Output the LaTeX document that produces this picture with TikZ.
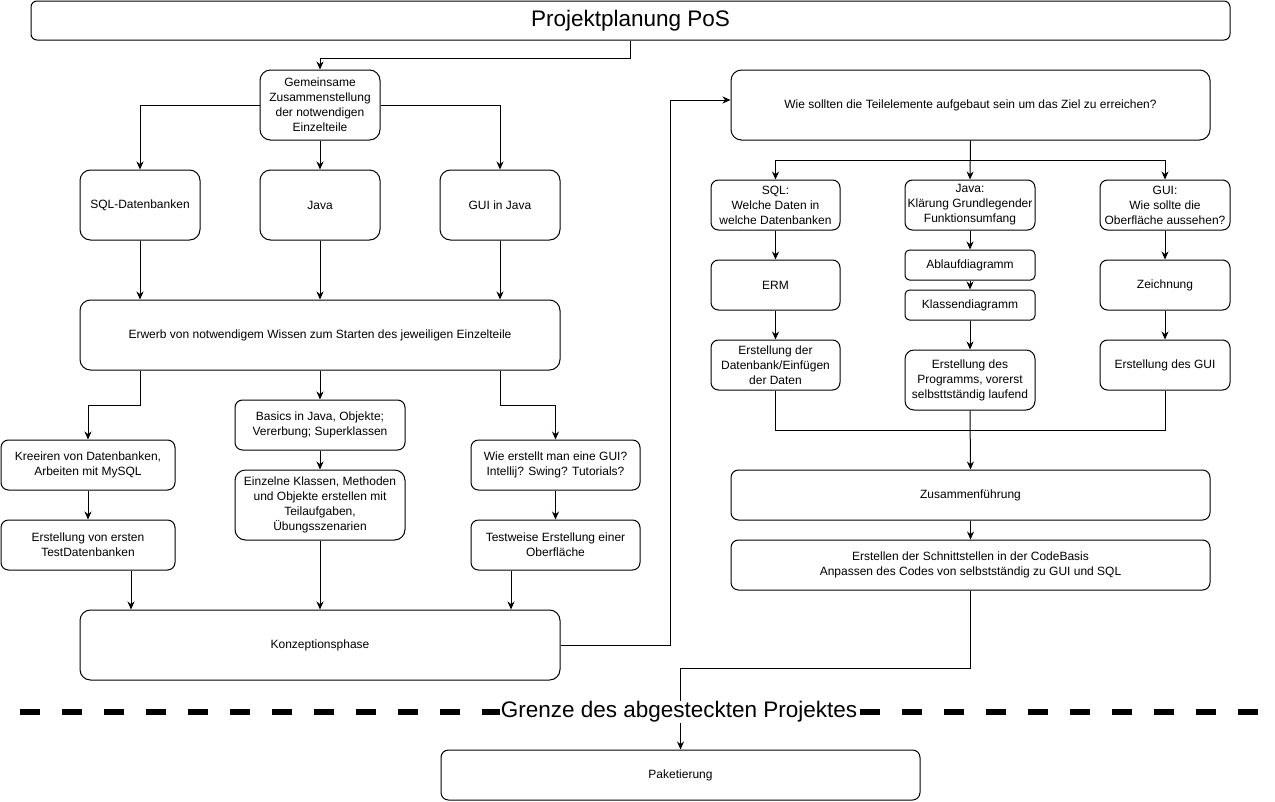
\documentclass[tikz,border=0pt]{standalone}
\usepackage{fontspec}
\setmainfont{Liberation Sans}
\usetikzlibrary{arrows.meta}
\tikzset{
  box/.style={draw, line width=1pt, align=center, inner sep=2pt, font=\fontsize{12}{15}\selectfont},
  r70/.style={box, rounded corners=10.5pt},
  r60/.style={box, rounded corners=9pt},
  r50/.style={box, rounded corners=7.5pt},
  r30/.style={box, rounded corners=4.5pt},
  r40/.style={box, rounded corners=6pt},
  line/.style={line width=1pt},
  arr/.style={line width=1pt, -{Stealth[length=8pt,width=7pt]}},
  bigtext/.style={font=\fontsize{22.5}{26}\selectfont},
}
\begin{document}
\begin{tikzpicture}[x=1pt,y=-1pt]
\useasboundingbox (0,0) rectangle (1275,801);
% left column
\node[r40, bigtext, minimum width=1199pt, minimum height=39pt] (title) at (630.5,20.5) {Projektplanung PoS};
\node[r70, minimum width=120pt, minimum height=70pt] (gem) at (320,105) {Gemeinsame\\Zusammenstellung\\der notwendigen\\Einzelteile};
\node[r70, minimum width=120pt, minimum height=70pt] (sql) at (140,205) {SQL-Datenbanken};
\node[r70, minimum width=120pt, minimum height=70pt] (java) at (320,205) {Java};
\node[r70, minimum width=120pt, minimum height=70pt] (guij) at (500,205) {GUI in Java};
\node[r70, minimum width=480pt, minimum height=70pt] (erw) at (320,335) {Erwerb von notwendigem Wissen zum Starten des jeweiligen Einzelteile};
\node[r50, minimum width=174pt, minimum height=50pt] (kre) at (88,465) {Kreeiren von Datenbanken,\\Arbeiten mit MySQL};
\node[r50, minimum width=174pt, minimum height=50pt] (eve) at (88,545) {Erstellung von ersten\\TestDatenbanken};
\node[r50, minimum width=170pt, minimum height=50pt] (bas) at (320,425) {Basics in Java, Objekte;\\Vererbung; Superklassen};
\node[r70, minimum width=170pt, minimum height=70pt] (ein) at (320,505) {Einzelne Klassen, Methoden\\und Objekte erstellen mit\\Teilaufgaben,\\Übungsszenarien};
\node[r50, minimum width=169pt, minimum height=50pt] (wgui) at (555.5,465) {Wie erstellt man eine GUI?\\Intellij? Swing? Tutorials?};
\node[r50, minimum width=169pt, minimum height=50pt] (tes) at (555.5,545) {Testweise Erstellung einer\\Oberfläche};
\node[r70, minimum width=480pt, minimum height=70pt] (konz) at (320,645) {Konzeptionsphase};
% right column
\node[r70, minimum width=479pt, minimum height=70pt] (wie) at (970.5,105) {Wie sollten die Teilelemente aufgebaut sein um das Ziel zu erreichen?};
\node[r50, minimum width=129pt, minimum height=50pt] (sq) at (775.5,205) {SQL:\\Welche Daten in\\welche Datenbanken};
\node[r50, minimum width=130pt, minimum height=50pt] (jq) at (970,205) {Java:\\Klärung Grundlegender\\Funktionsumfang};
\node[r50, minimum width=130pt, minimum height=50pt] (gq) at (1165,205) {GUI:\\Wie sollte die\\Oberfläche aussehen?};
\node[r50, minimum width=129pt, minimum height=50pt] (erm) at (775.5,285) {ERM};
\node[r50, minimum width=129pt, minimum height=50pt] (edb) at (775.5,365) {Erstellung der\\Datenbank/Einfügen\\der Daten};
\node[r30, minimum width=130pt, minimum height=30pt] (abl) at (970,265) {Ablaufdiagramm};
\node[r30, minimum width=130pt, minimum height=30pt] (kla) at (970,305) {Klassendiagramm};
\node[r60, minimum width=130pt, minimum height=60pt] (prog) at (970,380) {Erstellung des\\Programms, vorerst\\selbsttständig laufend};
\node[r50, minimum width=130pt, minimum height=50pt] (zei) at (1165,285) {Zeichnung};
\node[r50, minimum width=130pt, minimum height=50pt] (egui) at (1165,365) {Erstellung des GUI};
\node[r50, minimum width=479pt, minimum height=50pt] (zus) at (970.5,495) {Zusammenführung};
\node[r50, minimum width=479pt, minimum height=50pt] (sch) at (970.5,565) {Erstellen der Schnittstellen in der CodeBasis\\Anpassen des Codes von selbstständig zu GUI und SQL};
\node[r50, minimum width=479pt, minimum height=50pt] (pak) at (680.5,775) {Paketierung};
% connectors left
\draw[arr] (title.south) -- ++(0,18) -| (gem.north);
\draw[arr] (gem.west) -| (sql.north);
\draw[arr] (gem.south) -- (java.north);
\draw[arr] (gem.east) -| (guij.north);
\draw[arr] (sql.south) -- (sql.south |- erw.north);
\draw[arr] (java.south) -- (erw.north);
\draw[arr] (guij.south) -- (guij.south |- erw.north);
\draw[arr] (erw.south -| sql.south) -- ++(0,35) -| (kre.north);
\draw[arr] (erw.south) -- (bas.north);
\draw[arr] (erw.south -| guij.south) -- ++(0,35) -| (wgui.north);
\draw[arr] (kre.south) -- (eve.north);
\draw[arr] (bas.south) -- (ein.north);
\draw[arr] (wgui.south) -- (tes.north);
\draw[arr] ([xshift=43pt]eve.south) -- ([xshift=43pt]eve.south |- konz.north);
\draw[arr] (ein.south) -- (konz.north);
\draw[arr] ([xshift=-44.5pt]tes.south) -- ([xshift=-44.5pt]tes.south |- konz.north);
\draw[arr] (konz.east) -- ++(110,0) |- ([yshift=5pt]wie.west);
% connectors right
\draw[arr] (wie.south) -- ++(0,20) -| (sq.north);
\draw[arr] (wie.south) -- (jq.north);
\draw[arr] (wie.south) -- ++(0,20) -| (gq.north);
\draw[arr] (sq.south) -- (erm.north);
\draw[arr] (erm.south) -- (edb.north);
\draw[arr] (jq.south) -- (abl.north);
\draw[arr] (abl.south) -- (kla.north);
\draw[arr] (kla.south) -- (prog.north);
\draw[arr] (gq.south) -- (zei.north);
\draw[arr] (zei.south) -- (egui.north);
\draw[line] (edb.south) -- ++(0,40) -| (egui.south);
\draw[arr] (prog.south) -- (zus.north);
\draw[arr] (zus.south) -- (sch.north);
\draw[arr] (sch.south) -- ++(0,78) -| (pak.north);
% boundary
\coordinate (gl) at (20,712);
\coordinate (gr) at (1260,712);
\draw[line width=6pt, dash pattern=on 20pt off 22pt] (gl) -- (gr);
\node[bigtext, fill=white, inner sep=1pt] (grenze) at (679,712) {Grenze des abgesteckten Projektes};
\end{tikzpicture}
\end{document}
